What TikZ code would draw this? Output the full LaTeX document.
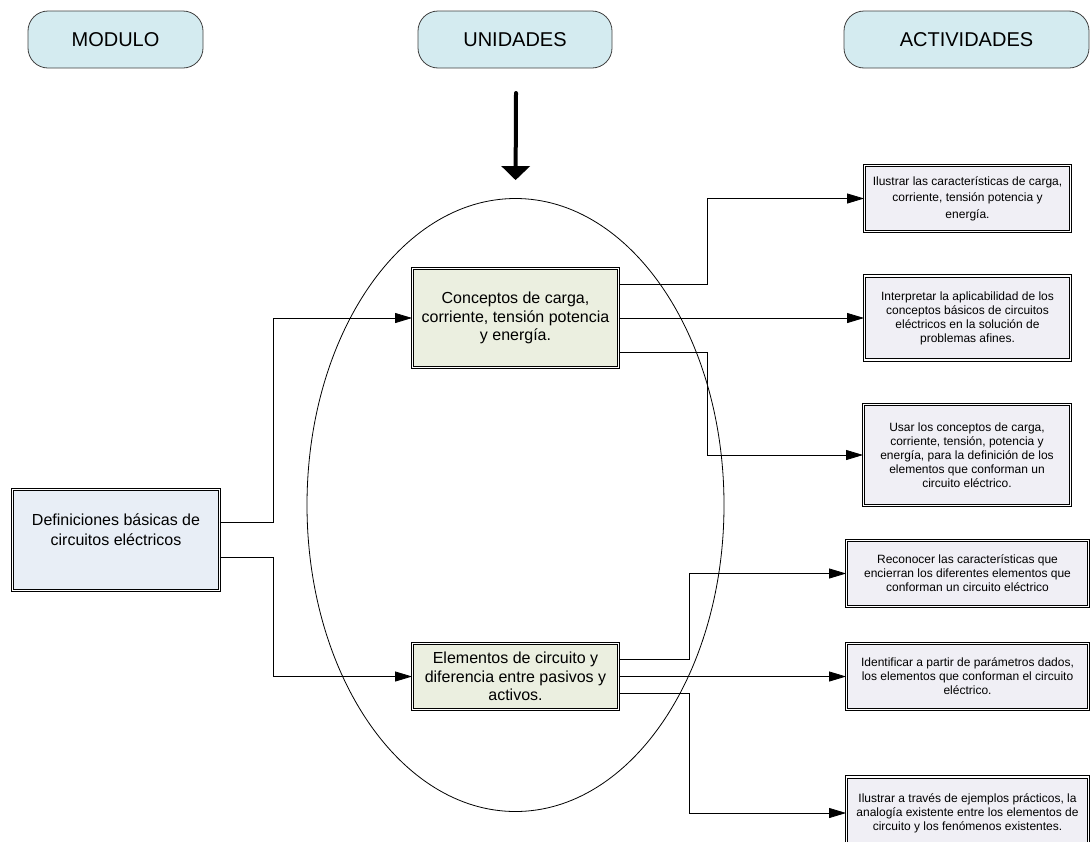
\documentclass[tikz,border=0pt]{standalone}
\usepackage{fontspec}
\setmainfont{Liberation Sans}
\usetikzlibrary{shapes.geometric, arrows.meta, positioning}

\definecolor{pillfill}{RGB}{212,235,240}
\definecolor{deffill}{RGB}{232,238,246}
\definecolor{unitfill}{RGB}{235,239,224}
\definecolor{actfill}{RGB}{240,239,245}

\begin{document}
\begin{tikzpicture}[x=1pt, y=-1pt,
	pill/.style={draw=black!75, line width=0.8pt, fill=pillfill, rounded corners=20pt, minimum height=57pt, font=\fontsize{20}{24}\selectfont},
	box/.style={draw, double, double distance=1.5pt, line width=0.9pt, align=center, inner sep=2pt},
	unit/.style={box, fill=unitfill, minimum width=206pt, font=\fontsize{16}{18.5}\selectfont},
	act/.style={box, fill=actfill, font=\fontsize{12}{14}\selectfont},
	link/.style={line width=0.8pt, -{Triangle[length=17pt,width=10pt]}}]
				\useasboundingbox (0,0) rectangle (1091,841);
				\node[pill, minimum width=175pt] (modulo) at (115.5,39.5) {MODULO};
				\node[pill, minimum width=194pt] (unidades) at (515,39.5) {UNIDADES};
				\node[pill, minimum width=245pt] (actividades) at (966.5,39.5) {ACTIVIDADES};
				\node[ellipse, draw, line width=0.8pt, minimum width=417pt, minimum height=613pt] (grupo) at (515.5,505) {};
				\coordinate (inicio) at (516,93);
				\draw[line width=4pt, line cap=round, -{Triangle[length=14pt,width=28pt]}, shorten >=18pt] (inicio) -- (grupo.north);
				\node[box, fill=deffill, minimum width=207pt, minimum height=101pt, font=\fontsize{16}{20}\selectfont] (def) at (116,540) {Definiciones básicas de\\circuitos eléctricos\\\mbox{}};
				\node[unit, minimum height=99pt] (conc) at (515.5,318) {Conceptos de carga,\\corriente, tensión potencia\\y energía.};
				\node[unit, minimum height=66pt] (elem) at (515.5,676.5) {Elementos de circuito y\\diferencia entre pasivos y\\activos.};
				\node[act, minimum width=206pt, minimum height=66pt, font=\fontsize{12}{16.5}\selectfont] (a1) at (967.5,198.5) {Ilustrar las características de carga,\\corriente, tensión potencia y\\energía.};
				\node[act, minimum width=206pt, minimum height=84pt] (a2) at (967.5,318) {Interpretar la aplicabilidad de los\\conceptos básicos de circuitos\\eléctricos en la solución de\\problemas afines.};
				\node[act, minimum width=207pt, minimum height=101pt] (a3) at (967,455) {Usar los conceptos de carga,\\corriente, tensión, potencia y\\energía, para la definición de los\\elementos que conforman un\\circuito eléctrico.};
				\node[act, minimum width=242pt, minimum height=66pt] (a4) at (967.5,573.5) {Reconocer las características que\\encierran los diferentes elementos que\\conforman un circuito eléctrico};
				\node[act, minimum width=242pt, minimum height=66pt] (a5) at (967.5,676.5) {Identificar a partir de parámetros dados,\\los elementos que conforman el circuito\\eléctrico.};
				\node[act, minimum width=242pt, minimum height=72pt] (a6) at (967.5,813) {Ilustrar a través de ejemplos prácticos, la\\analogía existente entre los elementos de\\circuito y los fenómenos existentes.};
				\draw[link] ([yshift=18pt]def.east) -- ++(53.5,0) |- (conc.west);
				\draw[link] ([yshift=-17pt]def.east) -- ++(53.5,0) |- (elem.west);
				\draw[link] ([yshift=34pt]conc.east) -- ++(88.5,0) |- (a1.west);
				\draw[link] (conc.east) -- (a2.west);
				\draw[link] ([yshift=-34pt]conc.east) -- ++(88.5,0) |- (a3.west);
				\draw[link] ([yshift=17pt]elem.east) -- ++(70.5,0) |- (a4.west);
				\draw[link] (elem.east) -- (a5.west);
				\draw[link] ([yshift=-17pt]elem.east) -- ++(70.5,0) |- (a6.west);
			\end{tikzpicture}
\end{document}
